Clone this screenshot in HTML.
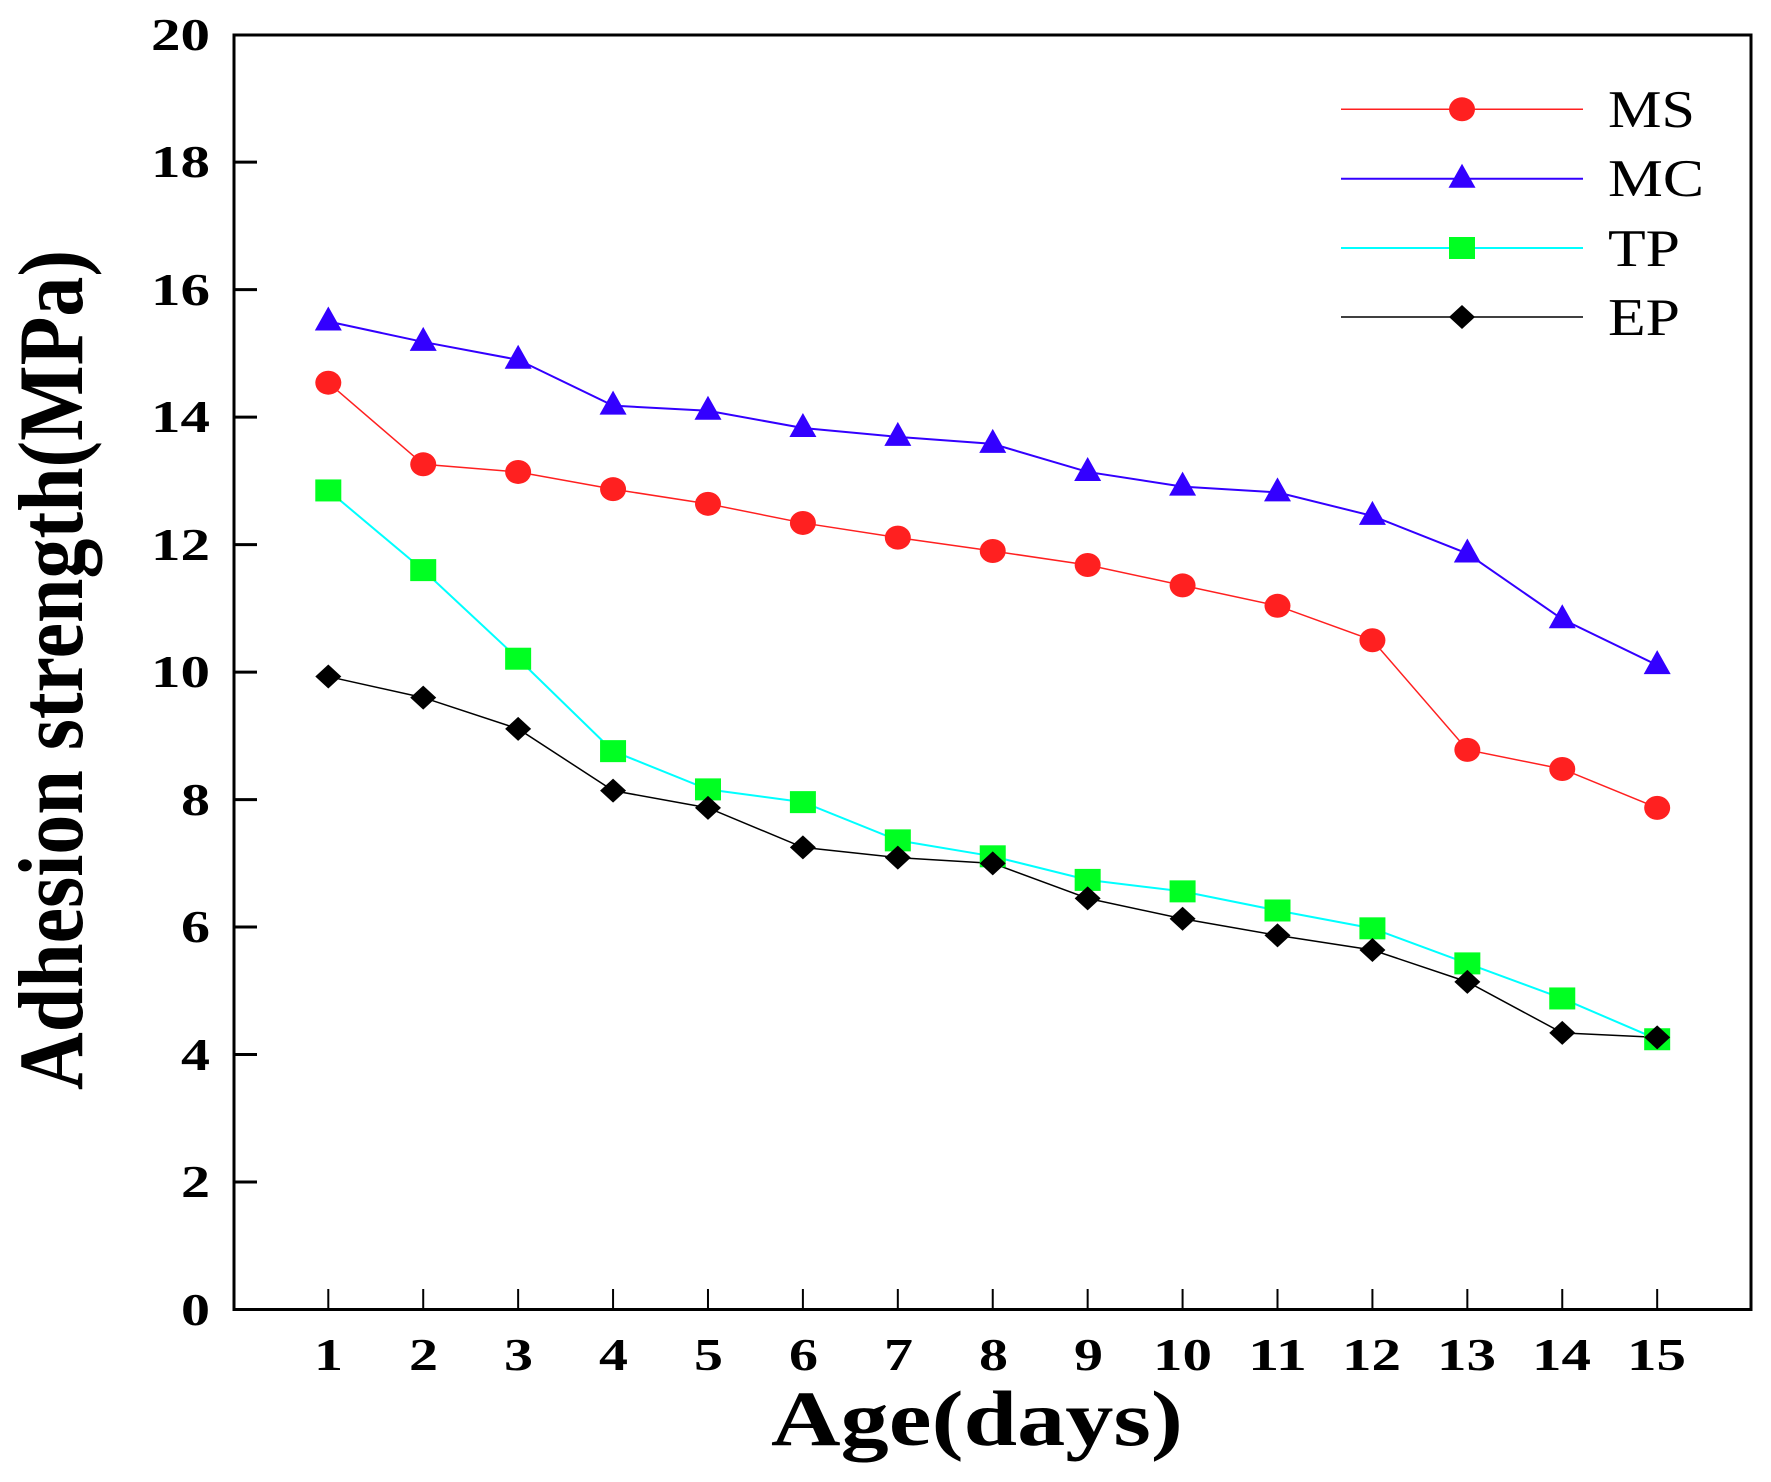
<!DOCTYPE html>
<html><head><meta charset="utf-8"><style>html,body{margin:0;padding:0;background:#fff}svg{display:block}</style></head>
<body>
<svg id="s" width="1771" height="1482" xmlns="http://www.w3.org/2000/svg" font-family="'Liberation Serif', serif">
<rect width="1771" height="1482" fill="#fff"/>
<g id="axes" stroke="#000" fill="none">
<rect x="234" y="35" width="1517" height="1274.5" stroke-width="3"/>
</g>
<g font-weight="bold" font-size="46" lengthAdjust="spacingAndGlyphs">
<text x="181" y="1325" textLength="29" lengthAdjust="spacingAndGlyphs">0</text>
<text x="181" y="1197" textLength="29" lengthAdjust="spacingAndGlyphs">2</text>
<text x="181" y="1070" textLength="29" lengthAdjust="spacingAndGlyphs">4</text>
<text x="181" y="942" textLength="29" lengthAdjust="spacingAndGlyphs">6</text>
<text x="181" y="815" textLength="29" lengthAdjust="spacingAndGlyphs">8</text>
<text x="151" y="687" textLength="59" lengthAdjust="spacingAndGlyphs">10</text>
<text x="151" y="560" textLength="59" lengthAdjust="spacingAndGlyphs">12</text>
<text x="151" y="432" textLength="59" lengthAdjust="spacingAndGlyphs">14</text>
<text x="151" y="305" textLength="59" lengthAdjust="spacingAndGlyphs">16</text>
<text x="151" y="177" textLength="59" lengthAdjust="spacingAndGlyphs">18</text>
<text x="151" y="50" textLength="59" lengthAdjust="spacingAndGlyphs">20</text>
</g>
<g font-weight="bold" font-size="46" id="xl"></g>
<text x="771" y="1445" font-weight="bold" font-size="78" textLength="412" lengthAdjust="spacingAndGlyphs">Age(days)</text>
<text transform="translate(82,1090) rotate(-90)" font-weight="bold" font-size="92" textLength="840" lengthAdjust="spacingAndGlyphs">Adhesion strength(MPa)</text>
<g font-size="53">
<text x="1608" y="127" textLength="87" lengthAdjust="spacingAndGlyphs">MS</text>
<text x="1608" y="196" textLength="96" lengthAdjust="spacingAndGlyphs">MC</text>
<text x="1608" y="266" textLength="72" lengthAdjust="spacingAndGlyphs">TP</text>
<text x="1608" y="335" textLength="72" lengthAdjust="spacingAndGlyphs">EP</text>
</g>
<g font-weight="bold" font-size="46">
<text x="314" y="1370" textLength="29" lengthAdjust="spacingAndGlyphs">1</text>
<text x="409" y="1370" textLength="29" lengthAdjust="spacingAndGlyphs">2</text>
<text x="504" y="1370" textLength="29" lengthAdjust="spacingAndGlyphs">3</text>
<text x="599" y="1370" textLength="29" lengthAdjust="spacingAndGlyphs">4</text>
<text x="694" y="1370" textLength="29" lengthAdjust="spacingAndGlyphs">5</text>
<text x="789" y="1370" textLength="29" lengthAdjust="spacingAndGlyphs">6</text>
<text x="884" y="1370" textLength="29" lengthAdjust="spacingAndGlyphs">7</text>
<text x="979" y="1370" textLength="29" lengthAdjust="spacingAndGlyphs">8</text>
<text x="1074" y="1370" textLength="29" lengthAdjust="spacingAndGlyphs">9</text>
<text x="1153" y="1370" textLength="59" lengthAdjust="spacingAndGlyphs">10</text>
<text x="1248" y="1370" textLength="59" lengthAdjust="spacingAndGlyphs">11</text>
<text x="1342" y="1370" textLength="59" lengthAdjust="spacingAndGlyphs">12</text>
<text x="1437" y="1370" textLength="59" lengthAdjust="spacingAndGlyphs">13</text>
<text x="1532" y="1370" textLength="59" lengthAdjust="spacingAndGlyphs">14</text>
<text x="1627" y="1370" textLength="59" lengthAdjust="spacingAndGlyphs">15</text>
</g>
<g id="plot"></g>
</svg>
<script>
var NS="http://www.w3.org/2000/svg";
function el(t,a,p){var e=document.createElementNS(NS,t);for(var k in a)e.setAttribute(k,a[k]);(p||document.getElementById('plot')).appendChild(e);return e;}
var ax=document.getElementById('axes');
function X(i){return 328.3+(i-1)*94.92;}
function Y(v){return 1309.5-v*63.74;}
for(var v=2;v<=18;v+=2)el('line',{x1:234,x2:257,y1:Y(v),y2:Y(v),'stroke-width':3},ax);
for(var i=1;i<=15;i++)el('line',{x1:X(i),x2:X(i),y1:1309,y2:1289,'stroke-width':2},ax);
var S=[
{c:'#ff2020',w:1.5,m:'circle',f:'#ff2020',d:[14.54,13.26,13.14,12.87,12.64,12.34,12.11,11.9,11.68,11.36,11.04,10.5,8.78,8.48,7.87],ly:109.3},
{c:'#3300ff',w:2,m:'tri',f:'#3300ff',d:[15.5,15.18,14.9,14.18,14.1,13.83,13.69,13.58,13.14,12.91,12.82,12.45,11.86,10.83,10.11],ly:178.7},
{c:'#00ffff',w:2,m:'sq',f:'#00ff22',d:[12.85,11.6,10.21,8.76,8.16,7.96,7.36,7.11,6.74,6.56,6.26,5.98,5.43,4.88,4.24],ly:248},
{c:'#000',w:1.5,m:'dia',f:'#000',d:[9.93,9.6,9.11,8.14,7.87,7.25,7.09,7.0,6.45,6.13,5.87,5.64,5.14,4.34,4.27],ly:317}
];
function mk(s,x,y){
 if(s.m=='circle')el('ellipse',{cx:x,cy:y,rx:13,ry:12,fill:s.f});
 else if(s.m=='tri')el('polygon',{points:(x-13.5)+','+(y+9)+' '+(x+13.5)+','+(y+9)+' '+x+','+(y-15),fill:s.f});
 else if(s.m=='sq')el('rect',{x:x-13,y:y-11,width:26,height:22,fill:s.f});
 else el('polygon',{points:(x-13)+','+y+' '+x+','+(y-12)+' '+(x+13)+','+y+' '+x+','+(y+12),fill:s.f});
}
S.forEach(function(s){
 var p=s.d.map(function(v,i){return X(i+1)+','+Y(v);}).join(' ');
 el('polyline',{points:p,fill:'none',stroke:s.c,'stroke-width':s.w});
 el('line',{x1:1341,x2:1583,y1:s.ly,y2:s.ly,stroke:s.c,'stroke-width':s.w});
});
S.forEach(function(s){
 s.d.forEach(function(v,i){mk(s,X(i+1),Y(v));});
 mk(s,1462,s.ly);
});
</script>
</body></html>
